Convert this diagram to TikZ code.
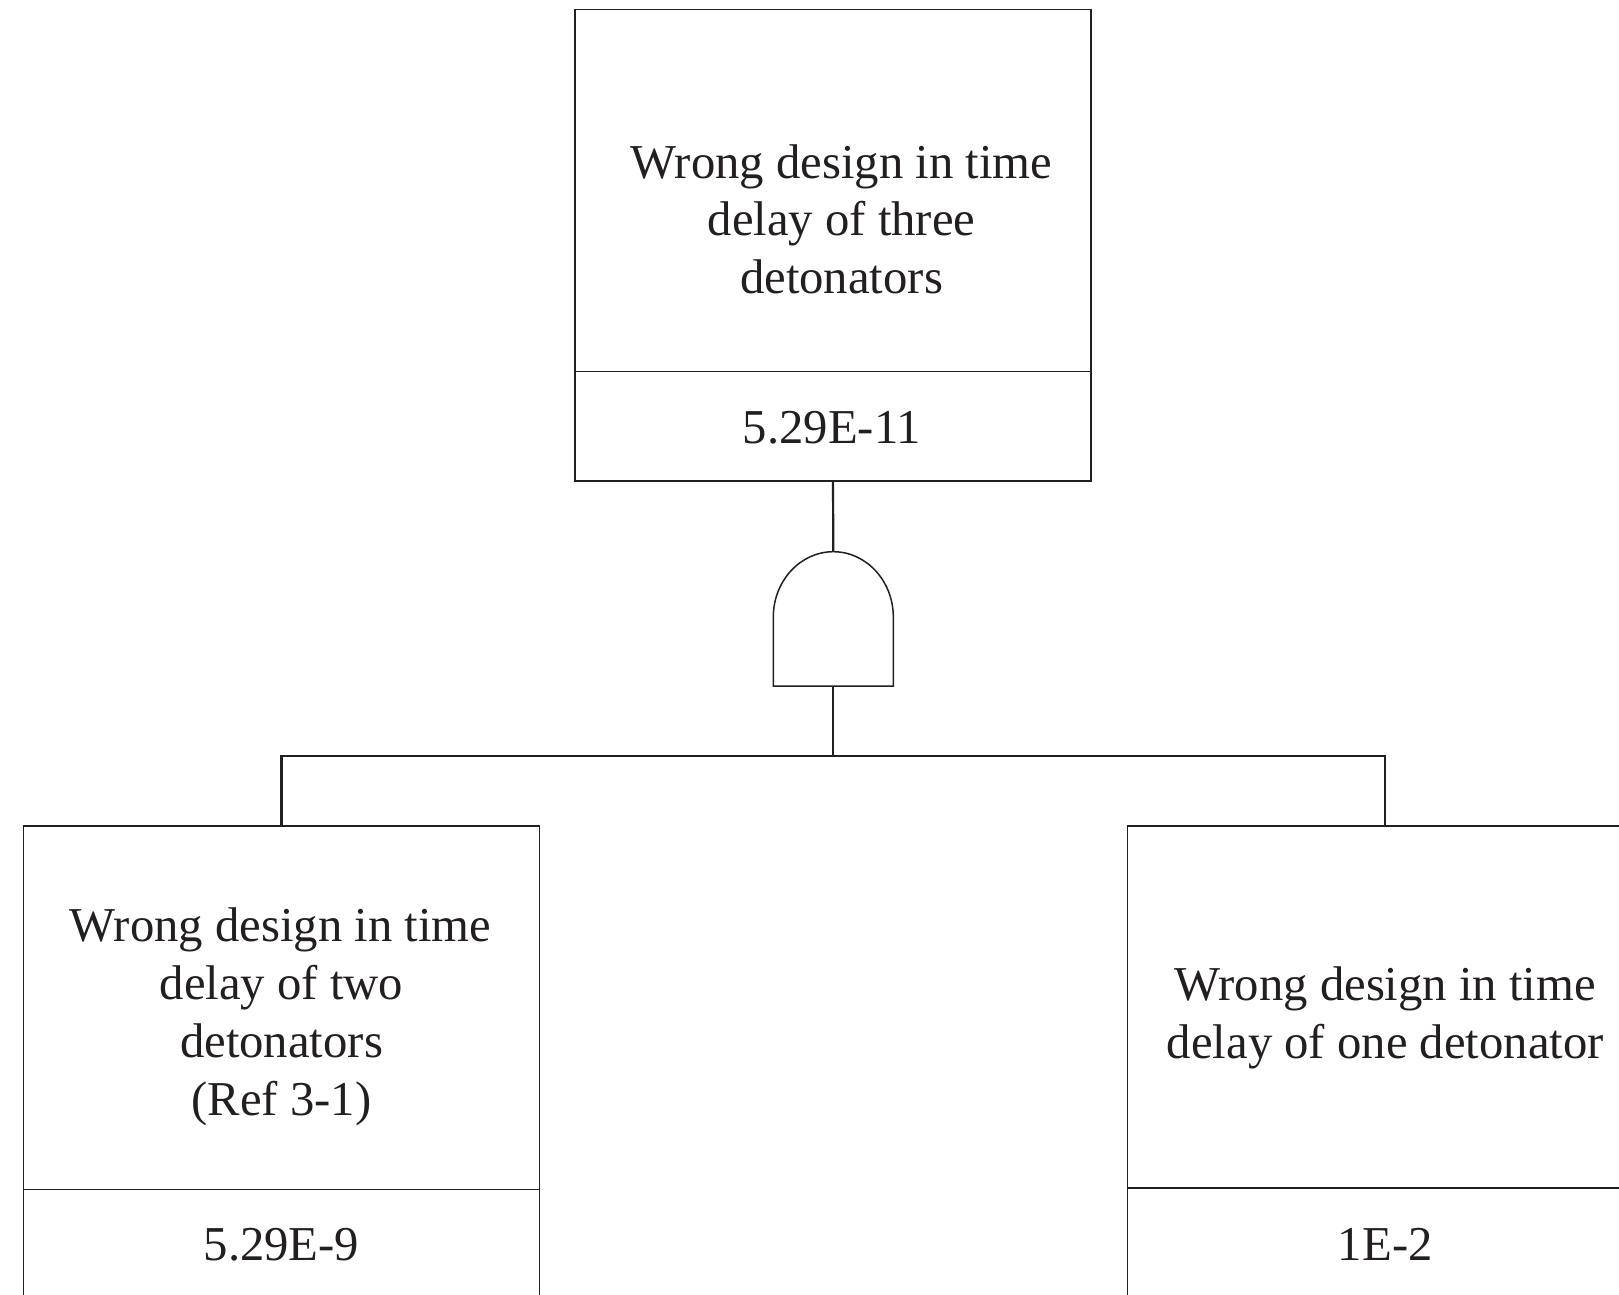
\documentclass[tikz,border=0pt]{standalone}
\usepackage{fontspec}
\setmainfont{Liberation Serif}
\definecolor{ink}{HTML}{231F20}
\begin{document}
\begin{tikzpicture}[x=1pt,y=-1pt,
  box/.style={draw=ink, line width=1.4pt, rectangle, inner sep=0pt, outer sep=0pt, anchor=north west},
  wire/.style={draw=ink, line width=2.2pt},
  gateline/.style={draw=ink, line width=1.5pt},
  lbl/.style={font=\fontsize{48.7}{58}\selectfont, text=ink, inner sep=0pt, anchor=base}]
\useasboundingbox (0,0) rectangle (1619,1295);
\clip (0,0) rectangle (1619,1295);
% top event
\node[box, minimum width=516pt, minimum height=362.4pt] (topd) at (575,9.3) {};
\node[box, minimum width=516pt, minimum height=109.4pt] (topv) at (575,371.7) {};
\node[lbl] (t1) at (841.5,178.3) {Wrong design in time};
\node[lbl] (t2) at (841.5,235.8) {delay of three};
\node[lbl] (t3) at (841.5,293.3) {detonators};
\node[lbl] (tv) at (832,443) {5.29E-11};
% left event
\node[box, minimum width=515.6pt, minimum height=363.5pt] (leftd) at (23.7,826) {};
\node[box, minimum width=515.6pt, minimum height=200pt] (leftv) at (23.7,1189.5) {};
\node[lbl] (l1) at (280.5,941.7) {Wrong design in time};
\node[lbl] (l2) at (281.5,999.5) {delay of two};
\node[lbl] (l3) at (281.5,1057.3) {detonators};
\node[lbl] (l4) at (281.5,1115) {(Ref 3-1)};
\node[lbl] (lv) at (281.5,1260.5) {5.29E-9};
% right event
\node[box, minimum width=515.6pt, minimum height=362pt] (rightd) at (1127.5,826) {};
\node[box, minimum width=515.6pt, minimum height=200pt] (rightv) at (1127.5,1188) {};
\node[lbl] (r1) at (1385.3,1000) {Wrong design in time};
\node[lbl] (r2) at (1385.3,1058.3) {delay of one detonator};
\node[lbl] (rv) at (1385.3,1260.5) {1E-2};
% AND gate
\coordinate (gtop) at (833.3,551.7);
\coordinate (gbot) at (833.3,686);
\coordinate (bus) at (833.3,756);
\draw[gateline, line join=miter] (773.3,686) -- (773.3,617)
  .. controls (773.3,581.1) and (800.2,551.7) .. (gtop)
  .. controls (866.4,551.7) and (893.3,581.1) .. (893.3,617)
  -- (893.3,686) -- cycle;
% connectors
\draw[wire] (topv.south) -- (gtop);
\draw[wire] (gbot) -- (bus);
\draw[wire] (leftd.north) |- (bus) -| (rightd.north);
\end{tikzpicture}
\end{document}
